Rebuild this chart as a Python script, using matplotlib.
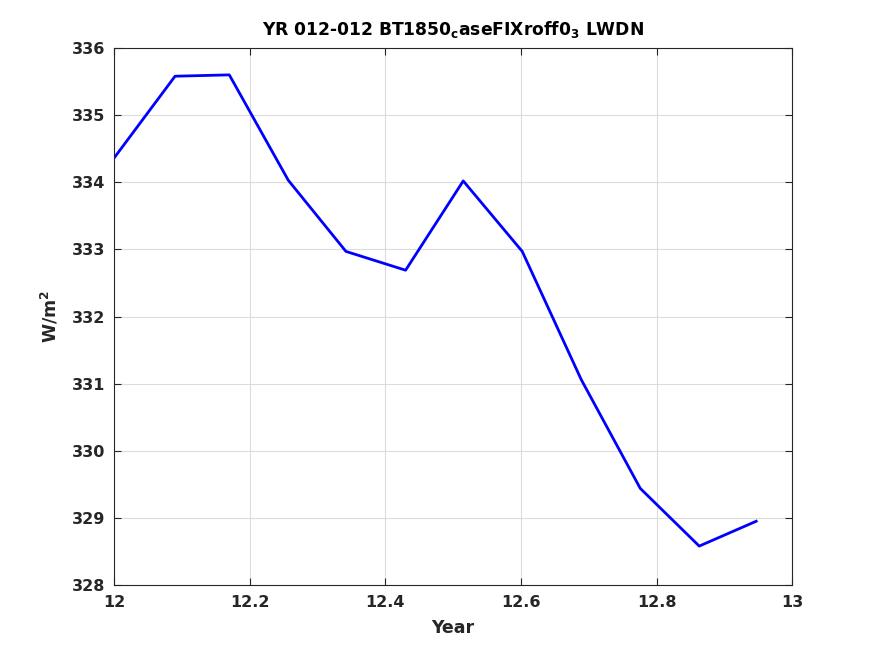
import numpy as np
import matplotlib
matplotlib.use("Agg")
import matplotlib.pyplot as plt

# Месячные значения LWDN за год 12
years = [12.0, 12.09, 12.17, 12.257, 12.342, 12.43, 12.515, 12.602, 12.689, 12.776, 12.863, 12.947]
lwdn = [334.36, 335.58, 335.60, 334.03, 332.97, 332.69, 334.02, 332.97, 331.06, 329.44, 328.58, 328.95]

x_ticks = [12, 12.2, 12.4, 12.6, 12.8, 13]
x_labels = ["12", "12.2", "12.4", "12.6", "12.8", "13"]
y_ticks = list(range(328, 337))

txt = '#262626'
plt.rcParams['font.family'] = ['DejaVu Sans']
plt.rcParams['font.weight'] = 'bold'
plt.rcParams['mathtext.default'] = 'bf'

fig = plt.figure(figsize=(8.75, 6.56), dpi=100)
ax = fig.add_axes([0.1303, 0.1082, 0.775, 0.8186])

ax.plot(years, lwdn, color='#0000ff', linewidth=2)

ax.set_xlim(12, 13)
ax.set_ylim(328, 336)
ax.set_xticks(x_ticks)
ax.set_xticklabels(x_labels)
ax.set_yticks(y_ticks)
ax.tick_params(direction='in', top=True, right=True, labelsize=11.5, length=5,
               width=0.8, colors=txt)
ax.tick_params(axis='x', pad=7.5)
ax.tick_params(axis='y', pad=6.5)
for lab in ax.get_xticklabels() + ax.get_yticklabels():
    lab.set_fontweight('bold')
ax.grid(True, color='#dcdcdc', linewidth=0.8)
for s in ax.spines.values():
    s.set_linewidth(0.8)
    s.set_color(txt)

ax.set_xlabel("Year", fontsize=12.5, fontweight='bold', color=txt, labelpad=6)
ax.set_ylabel("W/m$^2$", fontsize=12.5, fontweight='bold', color=txt, labelpad=8)
ax.set_title("YR 012-012 BT1850$_c$aseFIXroff0$_3$ LWDN", fontsize=12.3,
             fontweight='bold', color='black', pad=9.5)

fig.savefig("out.png", dpi=100)
